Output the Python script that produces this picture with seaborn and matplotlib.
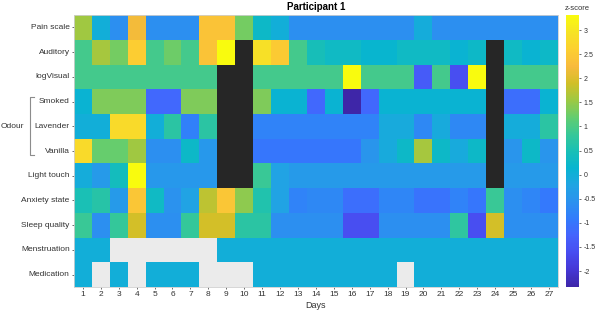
import numpy as np
import pandas as pd
import matplotlib
matplotlib.use("Agg")
import matplotlib.pyplot as plt
from matplotlib.colors import LinearSegmentedColormap, ListedColormap
import seaborn as sns

# cell codes: G = light gray (not applicable), K = black (no recording)
G = None
K = "off"

measures = ["Pain scale", "Auditory", "logVisual", "Smoked", "Lavender", "Vanilla",
            "Light touch", "Anxiety state", "Sleep quality", "Menstruation", "Medication"]
days = list(range(1, 28))

pain = [1.55, 0.0, -0.6, 2.2, -0.6, -0.6, -0.6, 2.4, 2.4, 1.3, 0.25, 0.0, -0.6, -0.6,
        -0.6, -0.6, -0.6, -0.6, -0.6, -0.05, -0.6, -0.6, -0.6, -0.6, -0.6, -0.6, -0.6]
auditory = [0.95, 1.6, 1.3, 2.55, 0.95, 1.25, 0.95, 2.4, 3.31, K, 2.9, 2.5, 0.95, 0.45,
            0.3, 0.3, 0.15, 0.15, 0.3, 0.3, 0.3, 0.1, 0.25, K, 0.3, 0.1, 0.25]
logvisual = [0.95, 0.95, 0.95, 0.95, 0.95, 0.95, 0.95, 0.95, K, K, 0.95, 0.95, 0.95, 0.95,
             0.95, 3.31, 0.95, 0.95, 0.95, -1.4, 0.95, -1.6, 3.3, K, 0.95, 0.95, 0.95]
smoked = [0.1, 1.35, 1.35, 1.35, -1.2, -1.2, 1.35, 1.35, K, K, 1.35, 0.1, 0.1, -1.2,
          0.1, -2.33, -1.2, 0.1, 0.1, 0.1, 0.1, 0.1, 0.1, K, -1.1, -1.1, 0.1]
lavender = [0.0, 0.0, 2.8, 2.8, 0.0, 0.7, -0.85, 0.7, K, K, -0.8, -0.8, -0.8, -0.8,
            -0.8, -0.8, -0.8, -0.1, -0.1, -0.7, -0.1, -0.7, -0.7, K, -0.05, -0.05, 0.7]
vanilla = [2.8, 1.2, 1.2, 1.55, -0.6, -0.6, 0.25, -0.45, K, K, -1.0, -1.0, -1.0, -1.0,
           -1.0, -1.0, -0.5, -0.1, 0.25, 1.6, 0.25, -0.1, 0.25, K, -0.5, 0.25, -0.5]
light_touch = [-0.05, -0.4, 0.4, 3.31, -0.45, -0.45, -0.45, -0.45, K, K, 0.85, -0.25, -0.4, -0.4,
               -0.4, -0.4, -0.4, -0.4, -0.4, -0.4, -0.4, -0.4, -0.4, K, -0.4, -0.4, -0.4]
anxiety = [0.5, 0.65, -0.4, 2.45, 0.3, -0.55, -0.25, 1.75, 2.45, 1.45, 0.6, -0.25, -0.8, -0.7,
           -0.7, -1.1, -1.1, -0.75, -0.75, -1.05, -1.05, -0.8, -1.0, 0.85, -0.6, -0.75, -0.95]
sleep = [0.85, -0.6, 0.8, 1.9, -0.6, -0.6, 0.8, 1.9, 1.9, 0.7, 0.7, -0.6, -0.6, -0.6,
         -0.6, -1.6, -1.6, -0.6, -0.6, -0.6, -0.6, 0.75, -1.6, 1.9, -0.6, -0.6, -0.6]
menstruation = [0, 0, G, G, G, G, G, G, 0, 0, 0, 0, 0, 0,
                0, 0, 0, 0, 0, 0, 0, 0, 0, 0, 0, 0, 0]
medication = [0, G, 0, G, 0, 0, 0, G, G, G, 0, 0, 0, 0,
              0, 0, 0, 0, G, 0, 0, 0, 0, 0, 0, 0, 0]

rows = [pain, auditory, logvisual, smoked, lavender, vanilla,
        light_touch, anxiety, sleep, menstruation, medication]

# parula-like colormap
parula = LinearSegmentedColormap.from_list("parula", [
    (0.2422, 0.1504, 0.6603), (0.2706, 0.2147, 0.8364), (0.2813, 0.3006, 0.9414),
    (0.2699, 0.3892, 0.9906), (0.1963, 0.4847, 0.9892), (0.1687, 0.5703, 0.9359),
    (0.1248, 0.6459, 0.8883), (0.0297, 0.7082, 0.8163), (0.0964, 0.7500, 0.7120),
    (0.2161, 0.7843, 0.5923), (0.3909, 0.8029, 0.4354), (0.6174, 0.7876, 0.2612),
    (0.8203, 0.7498, 0.1535), (0.9728, 0.7298, 0.2394), (0.9892, 0.8136, 0.1885),
    (0.9658, 0.8894, 0.1465), (0.9763, 0.9831, 0.0538)], N=256)

z = pd.DataFrame([[np.nan if (v is None or v == K) else v for v in r] for r in rows],
                 index=measures, columns=days, dtype=float)
black = pd.DataFrame([[v == K for v in r] for r in rows], index=measures, columns=days)

plt.rcParams['font.family'] = ['Liberation Sans', 'DejaVu Sans']
fig = plt.figure(figsize=(5.96, 3.15), dpi=100)
ax = fig.add_axes([0.124, 0.089, 0.812, 0.863])
cax = fig.add_axes([0.950, 0.089, 0.022, 0.863])

ax.set_facecolor("#ebebeb")
sns.heatmap(z, cmap=parula, ax=ax, cbar_ax=cax, linewidths=0)
sns.heatmap(black.astype(float), mask=~black, cmap=ListedColormap(["#262626"]),
            cbar=False, ax=ax, linewidths=0)

ax.set_xticks(np.arange(len(days)) + 0.5)
ax.set_xticklabels(days, rotation=0)
ax.set_yticks(np.arange(len(measures)) + 0.5)
ax.set_yticklabels(measures, rotation=0)
ax.tick_params(axis="both", labelsize=6, colors="#333333", length=1.5, width=0.5, pad=1.5)
ax.set_xlabel("Days", fontsize=6.5, color="#333333", labelpad=2)
ax.set_ylabel("")
ax.set_title("Participant 1", fontsize=7, fontweight="bold", pad=4)
for s in ax.spines.values():
    s.set_visible(True)
    s.set_color("#d0d0d0")
    s.set_linewidth(0.6)

# odour bracket
tr = ax.get_yaxis_transform()
xb = -0.091
ax.plot([xb + 0.009, xb, xb, xb + 0.009], [3.3, 3.3, 5.65, 5.65], color="#8c8c8c",
        lw=0.8, transform=tr, clip_on=False)
ax.text(xb - 0.012, 4.5, "Odour", transform=tr, ha="right", va="center",
        fontsize=6, color="#333333")

cax.set_yticks(np.arange(-2, 3.01, 0.5))
cax.set_yticklabels([f"{t:g}" for t in np.arange(-2, 3.01, 0.5)])
cax.tick_params(labelsize=5, colors="#333333", length=1.5, width=0.5, pad=1.5)
fig.text(0.968, 0.985, "z-score", fontsize=5.5, color="#333333", ha="center", va="top")

fig.savefig("out.png", dpi=100)
